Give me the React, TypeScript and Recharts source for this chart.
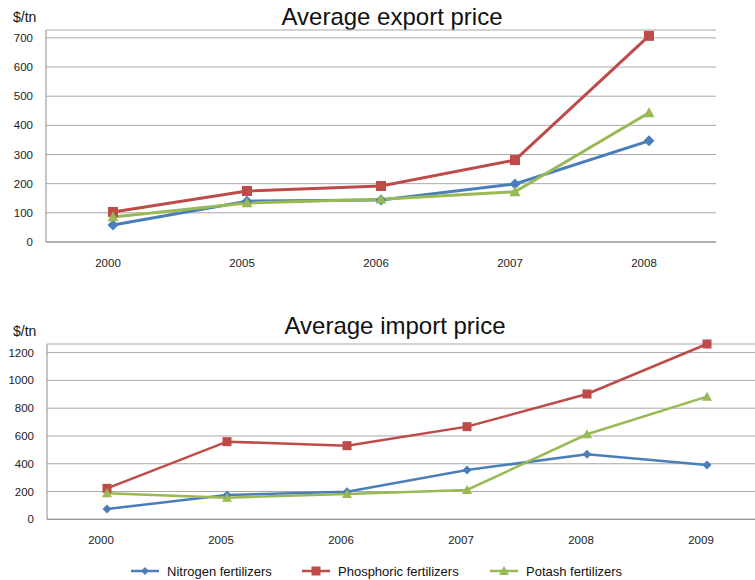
import React from 'react';
import { LineChart, Line, XAxis, YAxis, CartesianGrid } from 'recharts';

const exportYears = ['2000', '2005', '2006', '2007', '2008'];
const exportNitrogen = [58, 140, 144, 199, 347];
const exportPhosphoric = [103, 175, 192, 281, 707];
const exportPotash = [86, 134, 147, 172, 443];
const exportTicks = [0, 100, 200, 300, 400, 500, 600, 700];

const importYears = ['2000', '2005', '2006', '2007', '2008', '2009'];
const importNitrogen = [74, 175, 199, 355, 468, 391];
const importPhosphoric = [223, 559, 530, 667, 902, 1262];
const importPotash = [187, 156, 182, 211, 612, 883];
const importTicks = [0, 200, 400, 600, 800, 1000, 1200];

const seriesNames = ['Nitrogen fertilizers', 'Phosphoric fertilizers', 'Potash fertilizers'];

const BLUE = '#4A7EBB';
const RED = '#BE4B48';
const GREEN = '#98B954';
const FONT = '"Liberation Sans", Arial, sans-serif';

const exportData = exportYears.map((year, i) => ({
  year,
  nitrogen: exportNitrogen[i],
  phosphoric: exportPhosphoric[i],
  potash: exportPotash[i],
}));

const importData = importYears.map((year, i) => ({
  year,
  nitrogen: importNitrogen[i],
  phosphoric: importPhosphoric[i],
  potash: importPotash[i],
}));

const diamond = (size: number, color: string) => (props: any) => {
  const { cx, cy, index } = props;
  const r = size / 2;
  return (
    <polygon
      key={'d' + index}
      points={`${cx},${cy - r} ${cx + r},${cy} ${cx},${cy + r} ${cx - r},${cy}`}
      fill={color}
    />
  );
};

const square = (size: number, color: string) => (props: any) => {
  const { cx, cy, index } = props;
  return <rect key={'s' + index} x={cx - size / 2} y={cy - size / 2} width={size} height={size} fill={color} />;
};

const triangle = (size: number, color: string) => (props: any) => {
  const { cx, cy, index } = props;
  const r = size / 2;
  return (
    <polygon
      key={'t' + index}
      points={`${cx},${cy - r} ${cx + r},${cy + r * 0.8} ${cx - r},${cy + r * 0.8}`}
      fill={color}
    />
  );
};

const tickStyle = { fontSize: 11.5, fill: '#222', fontFamily: FONT };

const Title = ({ text, top, left }: { text: string; top: number; left: number }) => (
  <div
    style={{
      position: 'absolute',
      top,
      left,
      width: 300,
      textAlign: 'center',
      fontSize: 24,
      fontFamily: FONT,
      color: '#111',
      lineHeight: '28px',
    }}
  >
    {text}
  </div>
);

const Unit = ({ top }: { top: number }) => (
  <div style={{ position: 'absolute', top, left: 13, fontSize: 14, fontFamily: FONT, color: '#111' }}>$/tn</div>
);

const LegendItem = ({ left, color, label, marker }: { left: number; color: string; label: string; marker: string }) => (
  <div style={{ position: 'absolute', left, top: 563, display: 'flex', alignItems: 'center' }}>
    <svg width={28} height={16}>
      <line x1={0} y1={8} x2={28} y2={8} stroke={color} strokeWidth={2.5} />
      {marker === 'diamond' && <polygon points="14,4 18,8 14,12 10,8" fill={color} />}
      {marker === 'square' && <rect x={9.5} y={3.5} width={9} height={9} fill={color} />}
      {marker === 'triangle' && <polygon points="14,3 19,12 9,12" fill={color} />}
    </svg>
    <span style={{ marginLeft: 8, fontSize: 13, fontFamily: FONT, color: '#111' }}>{label}</span>
  </div>
);

export default function App() {
  return (
    <div style={{ position: 'absolute', left: 0, top: 0, width: 755, height: 580, overflow: 'hidden', background: '#fff' }}>
      <Title text="Average export price" top={3} left={242} />
      <Unit top={9} />
      <div style={{ position: 'absolute', left: 0, top: 0 }}>
        <LineChart width={755} height={280} data={exportData} margin={{ top: 30, right: 39, bottom: 8, left: 0 }}>
          <CartesianGrid vertical={false} stroke="#A8A8A8" />
          <XAxis
            dataKey="year"
            tickLine={false}
            tickMargin={11}
            tick={{ ...tickStyle, dx: -5 }}
            stroke="#8C8C8C"
            height={30}
            padding={{ left: 67, right: 67 }}
          />
          <YAxis
            domain={[0, 727]}
            ticks={exportTicks}
            tickLine={false}
            tickMargin={7}
            tick={tickStyle}
            stroke="#8C8C8C"
            width={46}
          />
          <Line dataKey="nitrogen" name={seriesNames[0]} stroke={BLUE} strokeWidth={3} dot={diamond(11, BLUE)} isAnimationActive={false} />
          <Line dataKey="phosphoric" name={seriesNames[1]} stroke={RED} strokeWidth={3} dot={square(10, RED)} isAnimationActive={false} />
          <Line dataKey="potash" name={seriesNames[2]} stroke={GREEN} strokeWidth={3} dot={triangle(11, GREEN)} isAnimationActive={false} />
        </LineChart>
      </div>

      <Title text="Average import price" top={312} left={245} />
      <Unit top={323} />
      <div style={{ position: 'absolute', left: 0, top: 300 }}>
        <LineChart width={790} height={250} data={importData} margin={{ top: 44, right: 23, bottom: 0, left: 0 }}>
          <CartesianGrid vertical={false} stroke="#A8A8A8" />
          <XAxis
            dataKey="year"
            tickLine={false}
            tickMargin={11}
            tick={{ ...tickStyle, dx: -6 }}
            stroke="#8C8C8C"
            height={30.7}
            padding={{ left: 60, right: 60 }}
          />
          <YAxis
            domain={[0, 1262]}
            ticks={importTicks}
            tickLine={false}
            tickMargin={7}
            tick={tickStyle}
            stroke="#8C8C8C"
            width={47}
          />
          <Line dataKey="nitrogen" name={seriesNames[0]} stroke={BLUE} strokeWidth={2.5} dot={diamond(9, BLUE)} isAnimationActive={false} />
          <Line dataKey="phosphoric" name={seriesNames[1]} stroke={RED} strokeWidth={2.5} dot={square(9, RED)} isAnimationActive={false} />
          <Line dataKey="potash" name={seriesNames[2]} stroke={GREEN} strokeWidth={2.5} dot={triangle(10, GREEN)} isAnimationActive={false} />
        </LineChart>
      </div>

      <LegendItem left={131} color={BLUE} label={seriesNames[0]} marker="diamond" />
      <LegendItem left={302} color={RED} label={seriesNames[1]} marker="square" />
      <LegendItem left={490} color={GREEN} label={seriesNames[2]} marker="triangle" />
    </div>
  );
}
